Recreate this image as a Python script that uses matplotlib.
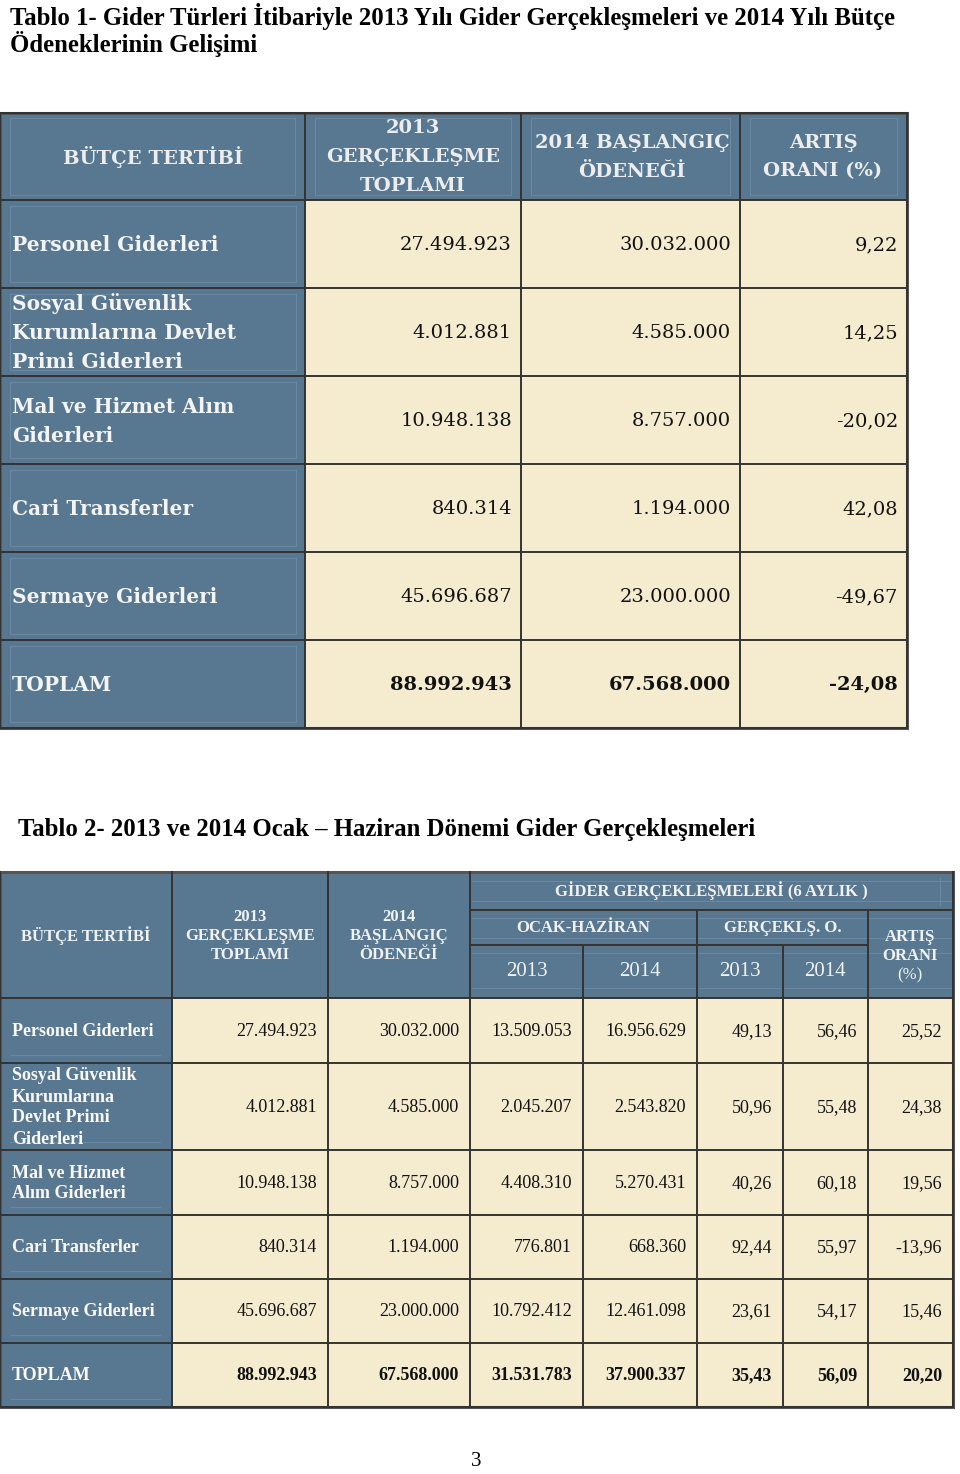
import matplotlib
matplotlib.use("Agg")
import matplotlib.pyplot as plt
from matplotlib.patches import Rectangle

# Tablo 1 - gider türleri
kalemler1 = ["Personel Giderleri",
             "Sosyal Güvenlik\nKurumlarına Devlet\nPrimi Giderleri",
             "Mal ve Hizmet Alım\nGiderleri",
             "Cari Transferler", "Sermaye Giderleri", "TOPLAM"]
gerceklesme_2013 = [27494923, 4012881, 10948138, 840314, 45696687, 88992943]
odenek_2014 = [30032000, 4585000, 8757000, 1194000, 23000000, 67568000]
artis_orani1 = [9.22, 14.25, -20.02, 42.08, -49.67, -24.08]

# Tablo 2 - ocak-haziran dönemi
kalemler2 = ["Personel Giderleri",
             "Sosyal Güvenlik\nKurumlarına\nDevlet Primi\nGiderleri",
             "Mal ve Hizmet\nAlım Giderleri",
             "Cari Transferler", "Sermaye Giderleri", "TOPLAM"]
oh_2013 = [13509053, 2045207, 4408310, 776801, 10792412, 31531783]
oh_2014 = [16956629, 2543820, 5270431, 668360, 12461098, 37900337]
oran_2013 = [49.13, 50.96, 40.26, 92.44, 23.61, 35.43]
oran_2014 = [56.46, 55.48, 60.18, 55.97, 54.17, 56.09]
artis_orani2 = [25.52, 24.38, 19.56, -13.96, 15.46, 20.20]

BLUE = "#587891"
CREAM = "#F5EBCF"
EDGE = "#333333"
FAINT = "#6F8CA3"
SERIF = "Liberation Serif"
SERIF1 = "DejaVu Serif"


def tl(v):
    return f"{v:,}".replace(",", ".")


def yuzde(v):
    return f"{v:.2f}".replace(".", ",")


def lines_text(ax, x, yc, text, step, **kw):
    parts = text.split("\n")
    y0 = yc - step * (len(parts) - 1) / 2
    for i, p in enumerate(parts):
        ax.text(x, y0 + i * step, p, va="center", **kw)


fig = plt.figure(figsize=(9.6, 14.74), dpi=100)
ax = fig.add_axes([0, 0, 1, 1])
ax.set_xlim(0, 960)
ax.set_ylim(1474, 0)
ax.axis("off")

# ---------------- Tablo 1 ----------------
ax.text(10, 16, "Tablo 1- Gider Türleri İtibariyle 2013 Yılı Gider Gerçekleşmeleri ve 2014 Yılı Bütçe",
        family=SERIF, weight="bold", fontsize=17.8, va="center")
ax.text(10, 44, "Ödeneklerinin Gelişimi", family=SERIF, weight="bold", fontsize=17.8, va="center")

cols1 = [0, 305, 521, 740, 907]
rows1 = [113, 200, 288, 376, 464, 552, 640, 728]

ax.add_patch(Rectangle((0, rows1[0]), cols1[-1], rows1[1] - rows1[0], fc=BLUE, ec="none"))
ax.add_patch(Rectangle((0, rows1[1]), cols1[1], rows1[-1] - rows1[1], fc=BLUE, ec="none"))
ax.add_patch(Rectangle((cols1[1], rows1[1]), cols1[-1] - cols1[1], rows1[-1] - rows1[1],
                       fc=CREAM, ec="none"))

# faint inner frames in the blue cells
for i in range(len(cols1) - 1):
    ax.add_patch(Rectangle((cols1[i] + 10, rows1[0] + 5), cols1[i + 1] - cols1[i] - 20,
                           rows1[1] - rows1[0] - 10, fc="none", ec=FAINT, lw=0.6))
for r in range(1, len(rows1) - 1):
    ax.add_patch(Rectangle((10, rows1[r] + 6), 286, rows1[r + 1] - rows1[r] - 12,
                           fc="none", ec=FAINT, lw=0.6))

for x in cols1:
    ax.plot([x, x], [rows1[0], rows1[-1]], color=EDGE, lw=1.4)
for y in rows1:
    ax.plot([0, cols1[-1]], [y, y], color=EDGE, lw=1.4)
ax.add_patch(Rectangle((0, rows1[0]), cols1[-1], rows1[-1] - rows1[0], fc="none", ec="#555555", lw=2.2))

hdr_kw = dict(family=SERIF1, weight="bold", fontsize=14, color="#EDEDED", ha="center")
lines_text(ax, 153, 157, "BÜTÇE TERTİBİ", 29, **hdr_kw)
lines_text(ax, 413, 157, "2013\nGERÇEKLEŞME\nTOPLAMI", 29, **hdr_kw)
lines_text(ax, 632, 157, "2014 BAŞLANGIÇ\nÖDENEĞİ", 29, **hdr_kw)
lines_text(ax, 823, 157, "ARTIŞ\nORANI (%)", 29, **hdr_kw)

for i, lab in enumerate(kalemler1):
    yc = (rows1[i + 1] + rows1[i + 2]) / 2 + 1
    bold = lab == "TOPLAM"
    lines_text(ax, 12, yc, lab, 29, family=SERIF1, weight="bold", fontsize=14.5,
               color="#F4F4F4", ha="left")
    vals = [tl(gerceklesme_2013[i]), tl(odenek_2014[i]), yuzde(artis_orani1[i])]
    for j, v in enumerate(vals):
        ax.text(cols1[j + 2] - 9, yc, v, family=SERIF1, fontsize=14, ha="right", va="center",
                weight="bold" if bold else "normal", color="#111111")

# ---------------- Tablo 2 ----------------
ax.text(18, 829, "Tablo 2- 2013 ve 2014 Ocak – Haziran Dönemi Gider Gerçekleşmeleri",
        family=SERIF, weight="bold", fontsize=17.8, va="center")

cols2 = [0, 172, 328, 470, 583, 697, 783, 868, 953]
h_top, h_mid1, h_mid2 = 872, 910, 945
rows2 = [998, 1063, 1150, 1215, 1279, 1343, 1407]

ax.add_patch(Rectangle((0, h_top), cols2[-1], rows2[0] - h_top, fc=BLUE, ec="none"))
ax.add_patch(Rectangle((0, rows2[0]), cols2[1], rows2[-1] - rows2[0], fc=BLUE, ec="none"))
ax.add_patch(Rectangle((cols2[1], rows2[0]), cols2[-1] - cols2[1], rows2[-1] - rows2[0],
                       fc=CREAM, ec="none"))

# faint lines in header
for y in [881, 901, 918, 938, 953, 988]:
    ax.plot([472, 951], [y, y], color=FAINT, lw=0.6)
ax.plot([940, 940], [878, 905], color=FAINT, lw=0.6)
for r in range(len(rows2) - 1):
    ax.plot([10, 160], [rows2[r + 1] - 8, rows2[r + 1] - 8], color=FAINT, lw=0.6)

for x in [0, 172, 328, 470, 953]:
    ax.plot([x, x], [h_top, rows2[-1]], color=EDGE, lw=1.4)
for x in [697, 868]:
    ax.plot([x, x], [h_mid1, rows2[-1]], color=EDGE, lw=1.4)
for x in [583, 783]:
    ax.plot([x, x], [h_mid2, rows2[-1]], color=EDGE, lw=1.4)
ax.plot([470, 953], [h_mid1, h_mid1], color=EDGE, lw=1.4)
ax.plot([470, 868], [h_mid2, h_mid2], color=EDGE, lw=1.4)
for y in rows2:
    ax.plot([0, cols2[-1]], [y, y], color=EDGE, lw=1.4)
ax.add_patch(Rectangle((0, h_top), cols2[-1], rows2[-1] - h_top, fc="none", ec="#555555", lw=2.2))

h2 = dict(family=SERIF, weight="bold", fontsize=12, color="#F2F2F2", ha="center")
lines_text(ax, 86, 936, "BÜTÇE TERTİBİ", 19, **h2)
lines_text(ax, 250, 936, "2013\nGERÇEKLEŞME\nTOPLAMI", 19, **h2)
lines_text(ax, 399, 936, "2014\nBAŞLANGIÇ\nÖDENEĞİ", 19, **h2)
lines_text(ax, 711, 891, "GİDER GERÇEKLEŞMELERİ (6 AYLIK )", 19, **h2)
lines_text(ax, 583, 928, "OCAK-HAZİRAN", 19, **h2)
lines_text(ax, 783, 928, "GERÇEKLŞ. O.", 19, **h2)
lines_text(ax, 910, 946, "ARTIŞ\nORANI", 19, **h2)
ax.text(910, 975, "(%)", family=SERIF, fontsize=12, color="#F2F2F2", ha="center", va="center")
for x, yil in zip([527, 640, 740, 825], ["2013", "2014", "2013", "2014"]):
    ax.text(x, 971, yil, family=SERIF, fontsize=15, color="#F2F2F2", ha="center", va="center")

for i, lab in enumerate(kalemler2):
    yc = (rows2[i] + rows2[i + 1]) / 2 + 1
    bold = lab == "TOPLAM"
    lines_text(ax, 12, yc, lab, 21, family=SERIF, weight="bold", fontsize=13,
               color="#FAFAFA", ha="left")
    vals = [tl(gerceklesme_2013[i]), tl(odenek_2014[i]), tl(oh_2013[i]), tl(oh_2014[i]),
            yuzde(oran_2013[i]), yuzde(oran_2014[i]), yuzde(artis_orani2[i])]
    for j, v in enumerate(vals):
        ax.text(cols2[j + 2] - 11, yc, v, family=SERIF, fontsize=13, ha="right", va="center",
                weight="bold" if bold else "normal", color="#111111")

ax.text(476, 1462, "3", family=SERIF, fontsize=15, ha="center", va="center")

fig.savefig("out.png", dpi=100, facecolor="white")
